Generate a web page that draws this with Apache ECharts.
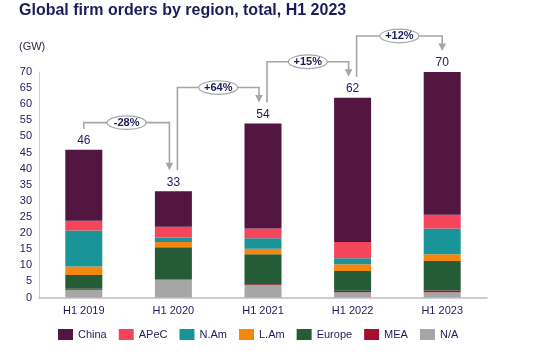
<!DOCTYPE html>
<html>
<head>
<meta charset="utf-8">
<script src="https://cdn.jsdelivr.net/npm/echarts@6/dist/echarts.min.js"></script>
<style>html,body{margin:0;padding:0;background:#fff;}#c{width:545px;height:356px;}</style>
</head>
<body>
<div id="c"></div>
<script>
var categories = ['H1 2019', 'H1 2020', 'H1 2021', 'H1 2022', 'H1 2023'];
var china  = [22.1, 11.0, 32.6, 44.8, 44.3];
var apec   = [3.0, 3.4, 3.0, 5.0, 4.3];
var nam    = [11.2, 1.4, 3.3, 1.9, 8.0];
var lam    = [2.6, 1.6, 1.7, 2.1, 2.1];
var europe = [4.3, 9.9, 9.3, 6.1, 9.1];
var mea    = [0.3, 0.2, 0.2, 0.5, 0.6];
var na     = [2.4, 5.5, 3.9, 1.6, 1.6];
var totals = [46, 33, 54, 62, 70];
var changes = ['-28%', '+64%', '+15%', '+12%'];
var yTicks = [0, 5, 10, 15, 20, 25, 30, 35, 40, 45, 50, 55, 60, 65, 70];

var NAVY = '#1c1c5c';
var FONT = 'Arial, "Liberation Sans", sans-serif';
var colors = {
  'China': '#531640', 'APeC': '#f4455b', 'N.Am': '#19959a', 'L.Am': '#f5870e',
  'Europe': '#245c37', 'MEA': '#a50e2d', 'N/A': '#a6a6a6'
};
var stackOrder = [['N/A', na], ['MEA', mea], ['Europe', europe], ['L.Am', lam], ['N.Am', nam], ['APeC', apec], ['China', china]];

var chart = echarts.init(document.getElementById('c'), null, {renderer: 'canvas'});

var series = stackOrder.map(function (s, idx) {
  var o = {
    name: s[0], type: 'bar', stack: 'total', data: s[1], barWidth: 37,
    itemStyle: {color: colors[s[0]]}, emphasis: {disabled: true}
  };
  if (idx === stackOrder.length - 1) {
    o.label = {
      show: true, position: 'top', distance: 3, color: NAVY, fontSize: 12, fontFamily: FONT,
      formatter: function (p) { return String(totals[p.dataIndex]); }
    };
  }
  return o;
});

chart.setOption({
  animation: false,
  textStyle: {fontFamily: FONT},
  title: [
    {text: 'Global firm orders by region, total, H1 2023', left: 19, top: 3, padding: 0,
     textStyle: {fontSize: 16, fontWeight: 'bold', color: NAVY, fontFamily: FONT}},
    {text: '(GW)', left: 19, top: 41, padding: 0,
     textStyle: {fontSize: 11, fontWeight: 'normal', color: '#2b2b55', fontFamily: FONT}}
  ],
  legend: {
    data: ['China', 'APeC', 'N.Am', 'L.Am', 'Europe', 'MEA', 'N/A'],
    left: 58, top: 329, padding: 0, itemWidth: 15, itemHeight: 11, itemGap: 12,
    icon: 'rect', selectedMode: false,
    textStyle: {fontSize: 11, color: NAVY, fontFamily: FONT}
  },
  grid: {left: 39, right: 58, top: 72, bottom: 58.5, containLabel: false},
  xAxis: {
    type: 'category', data: categories,
    axisLine: {show: true, lineStyle: {color: '#bfbfbf', width: 1.5}},
    axisTick: {show: false},
    axisLabel: {color: NAVY, fontSize: 11, margin: 8, fontFamily: FONT}
  },
  yAxis: {
    type: 'value', min: 0, max: 70, interval: 5,
    axisLine: {show: true, lineStyle: {color: '#d0d0d0', width: 1}},
    axisTick: {show: false},
    splitLine: {show: false},
    axisLabel: {color: NAVY, fontSize: 11, margin: 7, fontFamily: FONT,
      formatter: function (v) { return yTicks.indexOf(v) >= 0 ? String(v) : ''; }}
  },
  series: series
});

// Annotations computed from data through the chart's scales
function stackTop(i) {
  var s = 0;
  stackOrder.forEach(function (r) { s += r[1][i]; });
  return s;
}
function px(i, v) {
  return chart.convertToPixel({xAxisIndex: 0, yAxisIndex: 0}, [i, v]);
}
var graphics = [];
var LINE = '#a6a6a6';
for (var k = 0; k < changes.length; k++) {
  var a = k, b = k + 1;
  var pa = px(a, stackTop(a)), pb = px(b, stackTop(b));
  var sx = pa[0] + (a === 0 ? 0 : 4);
  var ex = pb[0] - (b === categories.length - 1 ? 0 : 4);
  var sy = pa[1] - 21;
  var tipY = pb[1] - 21;
  var decrease = changes[k].charAt(0) === '-';
  var hy = Math.min(pa[1], pb[1]) - (decrease ? 27 : 36);
  graphics.push({
    type: 'polyline', silent: true,
    shape: {points: [[sx, sy], [sx, hy], [ex, hy], [ex, tipY - 6]]},
    style: {stroke: LINE, lineWidth: 1.6, fill: null}
  });
  graphics.push({
    type: 'polygon', silent: true,
    shape: {points: [[ex - 3.8, tipY - 7.5], [ex + 3.8, tipY - 7.5], [ex, tipY]]},
    style: {fill: LINE, stroke: null}
  });
  var cx = (sx + ex) / 2;
  graphics.push({
    type: 'ellipse', silent: true,
    shape: {cx: cx, cy: hy, rx: 19.5, ry: 6.8},
    style: {fill: '#ffffff', stroke: LINE, lineWidth: 1.2}
  });
  graphics.push({
    type: 'text', silent: true, x: cx, y: hy,
    style: {text: changes[k], fill: NAVY, fontSize: 11, fontWeight: 'bold', fontFamily: FONT,
            align: 'center', verticalAlign: 'middle'}
  });
}
chart.setOption({graphic: graphics});
</script>
</body>
</html>
